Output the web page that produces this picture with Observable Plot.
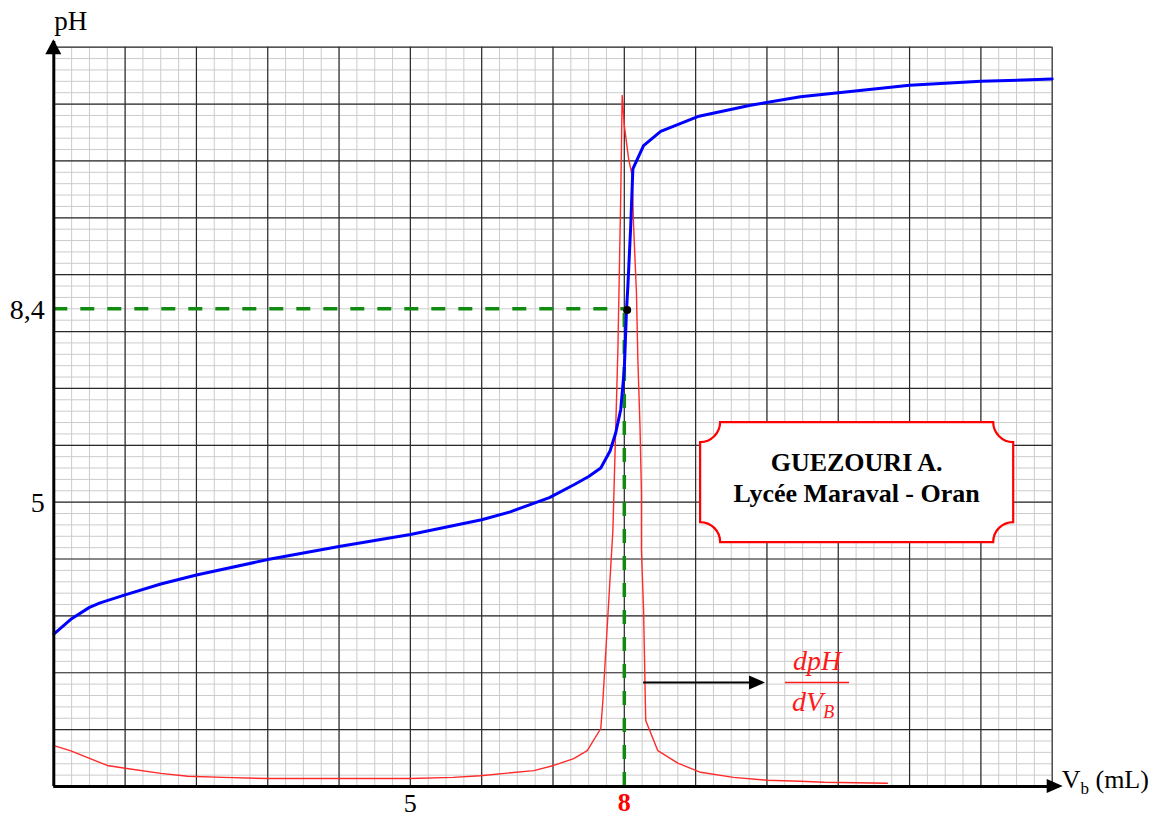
<!DOCTYPE html>
<html>
<head>
<meta charset="utf-8">
<script src="https://cdn.jsdelivr.net/npm/d3@7"></script>
<script src="https://cdn.jsdelivr.net/npm/@observablehq/plot@0.6"></script>
<style>
  html, body { margin: 0; padding: 0; background: #fff; }
  svg { display: block; }
</style>
</head>
<body>
<div id="chart"></div>
<script>
// ---- data ----
const V_pH = [0, 0.25, 0.5, 0.65, 1.0, 1.5, 2.0, 3.0, 4.0, 5.0, 6.0, 6.4, 6.95, 7.3, 7.5, 7.67, 7.8, 7.88, 7.95, 8.0, 8.03, 8.05, 8.09, 8.12, 8.27, 8.51, 9.03, 9.77, 10.47, 11.17, 12.0, 13.0, 14.0];
const pH   = [2.68, 2.95, 3.15, 3.23, 3.37, 3.56, 3.72, 3.99, 4.22, 4.43, 4.69, 4.83, 5.08, 5.31, 5.45, 5.6, 5.9, 6.22, 6.63, 7.34, 8.36, 8.8, 9.86, 10.86, 11.27, 11.52, 11.78, 11.98, 12.13, 12.22, 12.33, 12.40, 12.44];

const V_deriv = [0, 0.23, 0.75, 1.0, 1.5, 1.88, 2.38, 3.0, 5.0, 5.6, 5.98, 6.73, 7.01, 7.29, 7.48, 7.67, 7.7, 7.84, 7.91, 7.95, 7.97, 8.0, 8.06, 8.11, 8.13, 8.17, 8.19, 8.22, 8.24, 8.24, 8.27, 8.3, 8.47, 8.75, 9.07, 9.53, 10.0, 10.47, 10.8, 11.69];
const dpHdV   = [0.72, 0.63, 0.37, 0.32, 0.23, 0.18, 0.16, 0.14, 0.14, 0.16, 0.19, 0.28, 0.37, 0.49, 0.63, 1.02, 1.52, 4.51, 7.69, 10.39, 12.15, 11.62, 11.04, 10.74, 9.86, 8.69, 7.51, 6.33, 5.17, 4.16, 3.1, 1.16, 0.63, 0.41, 0.25, 0.16, 0.11, 0.093, 0.076, 0.058];

const xDomain = [0, 14];
const yDomain = [0, 13];
const Ve = 8;        // equivalence volume
const pHe = 8.4;     // pH at equivalence
const xTickLabels = [{v: 5, label: "5"}];
const yTickLabels = [{v: 8.4, label: "8,4"}, {v: 5, label: "5"}];
const eqLabel = "8";
const box = {x1: 9.07, x2: 13.46, y1: 4.29, y2: 6.40, line1: "GUEZOURI A.", line2: "Lycée Maraval - Oran"};
const arrowSpec = {x1: 8.27, x2: 9.98, y: 1.82};

const phData = d3.zip(V_pH, pH).map(([v, p]) => ({v, p}));
const derivData = d3.zip(V_deriv, dpHdV).map(([v, p]) => ({v, p}));

const minorX = d3.range(0, 14.001, 0.25);
const minorY = d3.range(0, 13.001, 0.2);
const majorX = d3.range(0, 15, 1);
const majorY = d3.range(0, 14, 1);

const serif = "'Liberation Serif', 'Times New Roman', serif";

const plot = Plot.plot({
  width: 1159,
  height: 818,
  marginLeft: 53.3,
  marginRight: 107.3,
  marginTop: 46.7,
  marginBottom: 32,
  x: {domain: xDomain, axis: null},
  y: {domain: yDomain, axis: null},
  style: {background: "white", fontFamily: serif},
  marks: [
    Plot.ruleX(minorX, {stroke: "#cccccc", strokeWidth: 1}),
    Plot.ruleY(minorY, {stroke: "#cccccc", strokeWidth: 1}),
    Plot.ruleX(majorX, {stroke: "#2a2a2a", strokeWidth: 1.2}),
    Plot.ruleY(majorY, {stroke: "#2a2a2a", strokeWidth: 1.2}),
    // derivative curve
    Plot.line(derivData, {x: "v", y: "p", stroke: "#ff2a2a", strokeWidth: 1.4}),
    // green dashed guides
    Plot.ruleY([pHe], {x1: 0, x2: Ve, stroke: "#118a11", strokeWidth: 3.5, strokeDasharray: "14,13"}),
    Plot.ruleX([Ve], {y1: 0, y2: pHe, stroke: "#118a11", strokeWidth: 3.5, strokeDasharray: "14,13"}),
    // pH curve
    Plot.line(phData, {x: "v", y: "p", stroke: "#0000ff", strokeWidth: 3}),
    Plot.dot([{v: 8.04, p: 8.38}], {x: "v", y: "p", r: 4, fill: "black"}),
    // axes
    Plot.ruleX([0], {y1: 0, y2: 13.1, stroke: "black", strokeWidth: 3}),
    Plot.ruleY([0], {x1: 0, x2: 14.1, stroke: "black", strokeWidth: 3}),
    // tick labels
    Plot.text(yTickLabels, {x: 0, y: "v", text: "label", textAnchor: "end", dx: -9, dy: 1, fontSize: 28, fill: "black"}),
    Plot.text(xTickLabels, {x: "v", y: 0, text: "label", dy: 17, fontSize: 26, fill: "black"}),
    Plot.text([eqLabel], {x: Ve, y: 0, text: d => d, dy: 16, fontSize: 26, fontWeight: "bold", fill: "#ff0000"}),
    Plot.text(["pH"], {x: 0, y: 13, text: d => d, dx: 17, dy: -26, fontSize: 27, fill: "black"})
  ]
});

document.getElementById("chart").appendChild(plot);

// ---- annotations using the plot's scales ----
const sx = plot.scale("x").apply, sy = plot.scale("y").apply;
const svg = d3.select(plot);
const g = svg.append("g").attr("text-anchor", "start");

// axis arrowheads
const x0 = sx(0), y0 = sy(0);
const topTip = sy(13) - 7.5;
g.append("path").attr("d", `M${x0},${topTip} L${x0 - 8},${topTip + 15} L${x0 + 8},${topTip + 15} Z`).attr("fill", "black");
const rightTip = sx(14) + 11;
g.append("path").attr("d", `M${rightTip},${y0} L${rightTip - 16},${y0 - 7} L${rightTip - 16},${y0 + 7} Z`).attr("fill", "black");

// V_b (mL)
const vb = g.append("text").attr("text-anchor", "start").attr("x", rightTip - 1).attr("y", y0 + 2).attr("font-family", serif).attr("font-size", 26).attr("fill", "black");
vb.append("tspan").text("V");
vb.append("tspan").attr("font-size", 17).attr("dy", 6).text("b");
vb.append("tspan").attr("dy", -6).text(" (mL)");

// black arrow pointing to the derivative label
const ay = sy(arrowSpec.y);
g.append("line").attr("x1", sx(arrowSpec.x1)).attr("x2", sx(arrowSpec.x2) - 14).attr("y1", ay).attr("y2", ay).attr("stroke", "black").attr("stroke-width", 2);
g.append("path").attr("d", `M${sx(arrowSpec.x2)},${ay} L${sx(arrowSpec.x2) - 16},${ay - 7} L${sx(arrowSpec.x2) - 16},${ay + 7} Z`).attr("fill", "black");

// dpH / dV_B fraction
const fx = sx(arrowSpec.x2) + 52;
g.append("text").attr("x", fx).attr("y", ay - 12).attr("text-anchor", "middle").attr("font-family", serif).attr("font-style", "italic").attr("font-size", 28).attr("fill", "#ff1a1a").text("dpH");
g.append("line").attr("x1", fx - 32).attr("x2", fx + 32).attr("y1", ay).attr("y2", ay).attr("stroke", "#ff1a1a").attr("stroke-width", 1.5);
const dv = g.append("text").attr("text-anchor", "start").attr("x", fx - 25).attr("y", ay + 29).attr("font-family", serif).attr("font-style", "italic").attr("font-size", 28).attr("fill", "#ff1a1a");
dv.append("tspan").text("dV");
dv.append("tspan").attr("font-size", 18).attr("dy", 7).text("B");

// author box with concave corners
const bx1 = sx(box.x1), bx2 = sx(box.x2), by1 = sy(box.y2), by2 = sy(box.y1), r = 20;
const bp = `M${bx1 + r},${by1} L${bx2 - r},${by1} A${r},${r} 0 0 0 ${bx2},${by1 + r} L${bx2},${by2 - r} A${r},${r} 0 0 0 ${bx2 - r},${by2} L${bx1 + r},${by2} A${r},${r} 0 0 0 ${bx1},${by2 - r} L${bx1},${by1 + r} A${r},${r} 0 0 0 ${bx1 + r},${by1} Z`;
g.append("path").attr("d", bp).attr("fill", "white").attr("stroke", "#ff0000").attr("stroke-width", 2.2);
const bcx = (bx1 + bx2) / 2;
g.append("text").attr("x", bcx).attr("y", by1 + 49).attr("text-anchor", "middle").attr("font-family", serif).attr("font-weight", "bold").attr("font-size", 26).attr("fill", "black").text(box.line1);
g.append("text").attr("x", bcx).attr("y", by1 + 80).attr("text-anchor", "middle").attr("font-family", serif).attr("font-weight", "bold").attr("font-size", 26).attr("fill", "black").text(box.line2);
</script>
</body>
</html>
